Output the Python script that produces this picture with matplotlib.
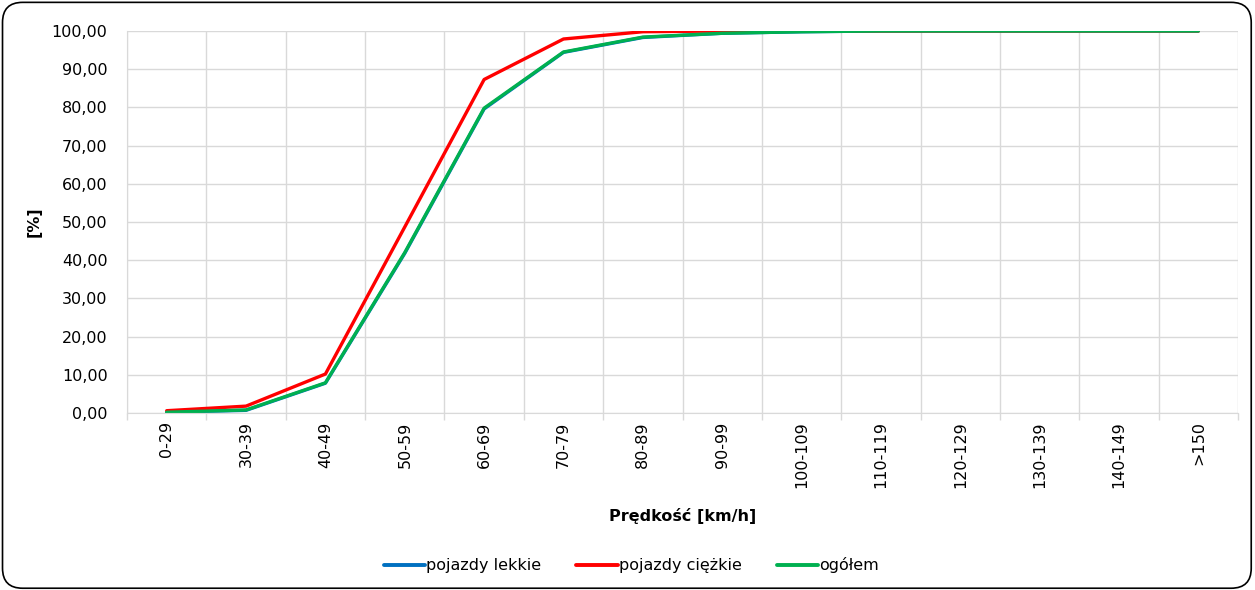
import matplotlib
matplotlib.use("Agg")
import matplotlib.pyplot as plt
import numpy as np
from matplotlib.patches import FancyBboxPatch
from matplotlib.ticker import FuncFormatter, FixedLocator

categories = ["0-29", "30-39", "40-49", "50-59", "60-69", "70-79", "80-89",
              "90-99", "100-109", "110-119", "120-129", "130-139", "140-149", ">150"]
lekkie = [0.2, 0.7, 7.8, 41.8, 79.6, 94.4, 98.3, 99.4, 99.8, 100.0, 100.0, 100.0, 100.0, 100.0]
ciezkie = [0.6, 1.8, 10.2, 48.7, 87.3, 97.9, 99.8, 100.0, 100.0, 100.0, 100.0, 100.0, 100.0, 100.0]
ogolem = [0.2, 0.8, 7.9, 42.0, 79.8, 94.5, 98.4, 99.4, 99.8, 100.0, 100.0, 100.0, 100.0, 100.0]

plt.rcParams["font.family"] = ["DejaVu Sans"]
fs = 11.5

fig = plt.figure(figsize=(12.55, 5.9), dpi=100)
ax = fig.add_axes([0.1012, 0.3, 0.8853, 0.6475])

x = np.arange(len(categories))
ax.plot(x, lekkie, color="#0070C0", lw=2.4, label="pojazdy lekkie", solid_capstyle="round")
ax.plot(x, ciezkie, color="#FF0000", lw=2.4, label="pojazdy ciężkie", solid_capstyle="round")
ax.plot(x, ogolem, color="#00B050", lw=2.4, label="ogółem", solid_capstyle="round")

ax.set_xlim(-0.5, len(categories) - 0.5)
ax.set_ylim(0, 100)
ax.set_yticks(np.arange(0, 101, 10))
ax.yaxis.set_major_formatter(FuncFormatter(lambda v, p: f"{v:.2f}".replace(".", ",")))
ax.set_xticks(x)
ax.set_xticklabels(categories, rotation=90, fontsize=fs, color="#000000")
ax.xaxis.set_minor_locator(FixedLocator(np.arange(-0.5, len(categories), 1.0)))
ax.tick_params(axis="x", which="major", length=0, pad=6)
ax.tick_params(axis="x", which="minor", length=5, color="#d9d9d9", width=1)
ax.tick_params(axis="y", length=0, labelsize=fs, pad=14)

ax.grid(True, axis="y", color="#d9d9d9", lw=1)
ax.grid(True, axis="x", which="minor", color="#d9d9d9", lw=1)
ax.set_axisbelow(True)
for s in ["top", "right"]:
    ax.spines[s].set_visible(False)
for s in ["left", "bottom"]:
    ax.spines[s].set_color("#d9d9d9")

ax.set_xlabel("Prędkość [km/h]", fontsize=fs, fontweight="bold", labelpad=14)
ax.set_ylabel("[%]", fontsize=fs, fontweight="bold", labelpad=7)

leg = fig.legend(loc="center", bbox_to_anchor=(0.503, 0.042),
                 ncol=3, frameon=False, fontsize=fs, handlelength=2.6,
                 handletextpad=0.05, columnspacing=2.2)
for line in leg.get_lines():
    line.set_linewidth(2.8)

border = FancyBboxPatch((0.002, 0.003), 0.995, 0.993, boxstyle="round,pad=0,rounding_size=0.016",
                        transform=fig.transFigure, fill=False, ec="black", lw=1.2,
                        mutation_aspect=1255 / 590)
fig.patches.append(border)

fig.savefig("out.png", dpi=100)
